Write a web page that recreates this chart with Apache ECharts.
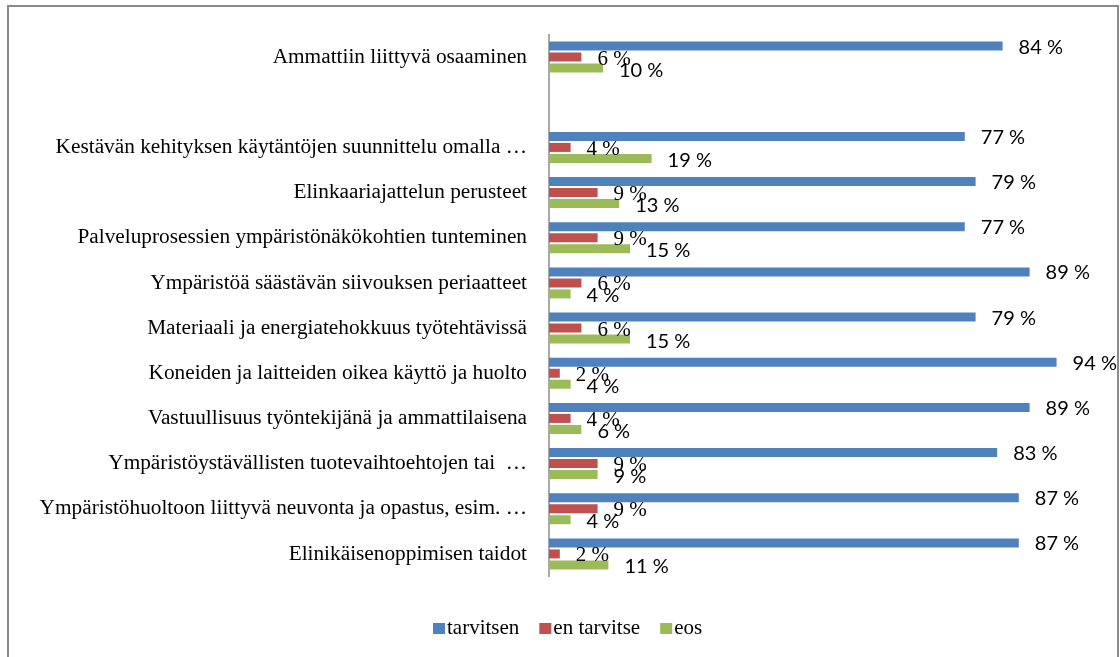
<!DOCTYPE html>
<html>
<head>
<meta charset="utf-8">
<script src="https://cdn.jsdelivr.net/npm/echarts@6/dist/echarts.min.js"></script>
<style>html,body{margin:0;padding:0;background:#fff;}#c{width:1120px;height:657px;}</style>
</head>
<body>
<div id="c"></div>
<script>
const categories = [
  'Ammattiin liittyvä osaaminen',
  '',
  'Kestävän kehityksen käytäntöjen suunnittelu omalla …',
  'Elinkaariajattelun perusteet',
  'Palveluprosessien ympäristönäkökohtien tunteminen',
  'Ympäristöä säästävän siivouksen periaatteet',
  'Materiaali ja energiatehokkuus työtehtävissä',
  'Koneiden ja laitteiden oikea käyttö ja huolto',
  'Vastuullisuus työntekijänä ja ammattilaisena',
  'Ympäristöystävällisten tuotevaihtoehtojen tai  …',
  'Ympäristöhuoltoon liittyvä neuvonta ja opastus, esim. …',
  'Elinikäisenoppimisen taidot'
];
const seriesNames = ['tarvitsen', 'en tarvitse', 'eos'];
const tarvitsen = [84, null, 77, 79, 77, 89, 79, 94, 89, 83, 87, 87];
const enTarvitse = [6, null, 4, 9, 9, 6, 6, 2, 4, 9, 9, 2];
const eos = [10, null, 19, 13, 15, 4, 15, 4, 6, 9, 4, 11];

const colors = ['#4F81BD', '#C0504D', '#9BBB59'];
const serif = '"Liberation Serif", "Times New Roman", serif';
const sans = 'Lato, "Open Sans", sans-serif';

function mk(name, data, color, font, size, off) {
  return {
    name: name,
    type: 'bar',
    data: data,
    barWidth: 9,
    barGap: '22%',
    itemStyle: { color: color },
    label: {
      show: true,
      position: 'right',
      distance: 16,
      offset: off,
      color: '#000',
      fontFamily: font,
      fontSize: size,
      formatter: p => p.value + ' %'
    },
    emphasis: { disabled: true },
    animation: false
  };
}

const chart = echarts.init(document.getElementById('c'));
chart.setOption({
  animation: false,
  textStyle: { fontFamily: serif },
  grid: { left: 549, top: 34.5, width: 540, height: 542, containLabel: false },
  xAxis: {
    type: 'value', min: 0, max: 100,
    axisLine: { show: false }, axisTick: { show: false },
    axisLabel: { show: false }, splitLine: { show: false }
  },
  yAxis: {
    type: 'category', inverse: true, data: categories,
    axisLine: { show: true, lineStyle: { color: '#8c8c8c', width: 1.5 } },
    axisTick: { show: false },
    axisLabel: { margin: 22, color: '#000', fontFamily: serif, fontSize: 21.3 }
  },
  legend: {
    left: 428, top: 613,
    itemWidth: 12, itemHeight: 11, itemGap: 20,
    icon: 'rect',
    data: seriesNames,
    textStyle: { fontFamily: serif, fontSize: 21, color: '#000', padding: [0, 0, 0, -3] }
  },
  graphic: [{
    type: 'rect', shape: { x: 8, y: 6, width: 1110, height: 670 },
    style: { fill: 'none', stroke: '#8a8a8a', lineWidth: 2 }, silent: true
  }],
  series: [
    mk(seriesNames[0], tarvitsen, colors[0], sans, 20, [0, 1]),
    mk(seriesNames[1], enTarvitse, colors[1], serif, 21, [0, 2]),
    mk(seriesNames[2], eos, colors[2], sans, 20, [0, 2])
  ]
});
</script>
</body>
</html>
